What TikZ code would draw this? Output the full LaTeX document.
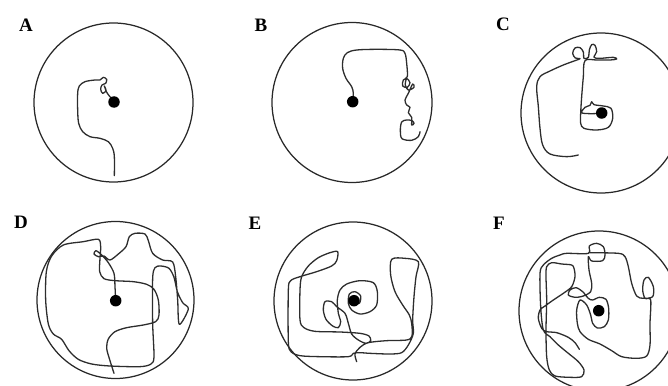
\documentclass[tikz,border=0pt]{standalone}
\usepackage{fontspec}
\setmainfont{Liberation Serif}
\usepackage{tikz}
\usetikzlibrary{positioning}
\definecolor{mydark}{RGB}{40,40,40}
\definecolor{mytrack}{RGB}{45,45,45}
\tikzset{
  arena/.style={draw=mydark, line width=1.25pt},
  track/.style={draw=mytrack, line width=1.3pt, line join=round, line cap=round},
  platform/.style={circle, fill=black, inner sep=0pt, minimum size=11.5pt},
  panellabel/.style={font=\fontsize{19}{19}\selectfont\bfseries, text=black, inner sep=0pt}
}

\begin{document}
\begin{tikzpicture}[x=1pt, y=-1pt]
  \useasboundingbox (0,0) rectangle (668,385);
  \clip (0,0) rectangle (668,385);

  % panel labels
  \node[panellabel] (labA) at (26,25) {A};
  \node[panellabel] (labB) at (261,25) {B};
  \node[panellabel] (labC) at (503,24) {C};
  \node[panellabel] (labD) at (21,222) {D};
  \node[panellabel] (labE) at (255,223) {E};
  \node[panellabel] (labF) at (499,223) {F};

  % pools
  \draw[arena] (113.5,102.5) circle[radius=79.5pt];
  \draw[arena] (352,102.5) circle[radius=80pt];
  \draw[arena] (601,113) circle[radius=80pt];
  \draw[arena] (115.5,300) circle[radius=78.5pt];
  \draw[arena] (353,301) circle[radius=79pt];
  \draw[arena] (599,311) circle[radius=80pt];

  % swim paths
  \begin{scope}[scale=1/3]
    \draw[track] plot[smooth, tension=0.55] coordinates {
      (343,527) (343,470) (338,445) (325,425) (300,415) (270,410) (248,395)
      (236,370) (233,330) (233,280) (238,258) (255,245) (285,240) (300,240)
      (310,232) (320,238) (317,250) (306,255) (302,268) (308,280) (318,272)
      (313,258) (322,280) (343,305)};
  \end{scope}

  \begin{scope}[shift={(220,0)}, scale=1/3]
    \draw[track] plot[smooth, tension=0.55] coordinates {
      (398,305) (400,280) (395,260) (378,235) (368,205) (370,175) (382,158)
      (410,150) (470,148) (540,150) (555,160) (560,190) (562,230) (550,240)
      (548,258) (562,262) (570,248) (560,236) (556,255) (565,270) (582,262)
      (578,252) (565,280) (555,300) (560,315) (570,322) (565,338) (575,352)
      (575,375) (582,370) (576,362) (560,360) (545,366) (541,392) (546,416)
      (575,421) (595,410) (600,395)};
  \end{scope}

  \begin{scope}[shift={(440,0)}, scale=1/3]
    \draw[track] plot[smooth, tension=0.55] coordinates {
      (415,465) (380,470) (330,462) (308,435) (300,385) (295,320) (290,260)
      (300,230) (330,213) (370,195) (405,182) (420,176) (406,174) (398,160)
      (405,144) (420,143) (430,156) (432,175) (445,172) (448,150) (455,134)
      (465,136) (470,155) (462,172) (480,175) (520,172) (530,177) (510,180)
      (470,180) (435,182) (430,230) (425,290) (422,340) (422,370) (432,385)
      (470,390) (505,382) (518,355) (513,325) (490,318) (462,314) (455,305)
      (450,316) (435,322) (425,338) (450,341) (485,340)};
  \end{scope}

  \begin{scope}[shift={(0,190)}, scale=1/3]
    \draw[track] plot[smooth, tension=0.5] coordinates {
      (347,332) (345,290) (342,250) (325,218) (305,195) (288,182) (282,192)
      (295,200) (312,198) (330,210) (355,192) (378,170) (388,140) (405,130)
      (435,132) (445,152) (458,190) (488,210) (518,216) (527,260) (533,330)
      (538,403) (565,357) (548,338) (532,305) (522,262) (507,235) (482,228)
      (465,233) (458,265) (458,400) (462,500) (453,522) (420,530) (330,528)
      (275,522) (235,508) (207,482) (185,448) (160,432) (145,402) (137,330)
      (139,245) (155,198) (190,165) (250,155) (295,148) (302,170) (300,205)
      (299,245) (312,266) (345,272) (400,275) (440,283) (462,298) (475,330)
      (477,375) (467,395) (430,405) (380,413) (345,425) (325,447) (320,475)
      (330,512) (342,550)};
  \end{scope}

  \begin{scope}[shift={(220,190)}, scale=1/3]
    \draw[track] plot[smooth, tension=0.5] coordinates {
      (410,515) (405,492) (420,472) (445,458) (500,452) (560,450) (576,438)
      (575,400) (568,375) (548,345) (525,305) (512,255) (515,208) (555,205)
      (595,215) (588,260) (582,320) (578,390) (580,430) (565,465) (545,488)
      (510,492) (450,490) (420,488) (400,490) (385,500) (300,500) (240,497)
      (213,485) (205,455) (205,300) (212,272) (240,260) (290,245) (335,228)
      (350,212) (353,185) (330,188) (295,203) (265,228) (245,260) (240,300)
      (240,390) (252,413) (285,424) (360,426) (420,430) (447,438) (452,452)
      (438,460) (415,450) (395,432) (385,400) (375,370) (350,350) (335,335)
      (315,335) (310,360) (318,388) (338,408) (355,413) (362,395) (355,370)
      (352,330) (360,300) (380,282) (420,272) (460,278) (472,305) (470,345)
      (450,365) (420,372) (395,360) (385,340) (388,312) (405,305) (422,318)
      (418,340) (403,332)};
  \end{scope}

  \begin{scope}[shift={(440,190)}, scale=1/3]
    \draw[track] plot[smooth, tension=0.5] coordinates {
      (418,478) (405,458) (385,442) (350,428) (320,425) (305,415) (295,385)
      (300,360) (315,348) (340,330) (370,310) (395,290) (405,260) (402,235)
      (395,225) (365,222) (335,218) (320,230) (318,260) (320,330) (318,420)
      (320,500) (328,540) (345,558) (390,562) (425,560) (432,540) (415,515)
      (385,490) (355,465) (330,440) (310,420) (302,350) (300,250) (310,225)
      (335,205) (360,195) (380,190) (445,190) (448,168) (470,160) (490,170)
      (495,195) (488,212) (455,213) (445,200) (447,240) (455,280) (452,305)
      (430,318) (405,322) (385,315) (390,300) (408,293) (428,305) (445,325)
      (458,330) (478,322) (498,328) (506,355) (505,390) (493,410) (472,414)
      (458,400) (452,375) (440,345) (420,330) (410,360) (412,400) (420,425)
      (445,448) (480,462) (515,482) (545,500) (590,505) (620,498) (630,465)
      (630,400) (632,330) (615,325) (608,300) (612,270) (625,262) (640,290)
      (638,320) (610,325) (590,318) (575,280) (565,230) (555,200) (535,190)
      (450,188)};
  \end{scope}

  % platforms
  \node[platform] (platA) at (114,102) {};
  \node[platform] (platB) at (352.7,101.7) {};
  \node[platform] (platC) at (601.7,113) {};
  \node[platform] (platD) at (115.7,300.7) {};
  \node[platform] (platE) at (354,300.7) {};
  \node[platform] (platF) at (598.7,310.7) {};
\end{tikzpicture}
\end{document}
